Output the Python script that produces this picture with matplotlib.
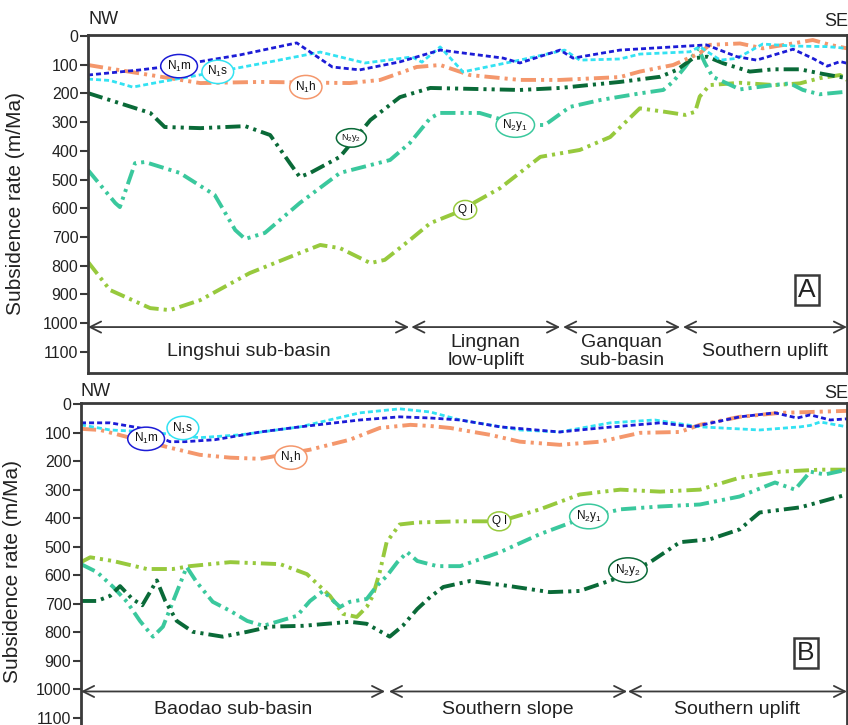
import matplotlib.pyplot as plt

plt.rcParams['font.family'] = ['Liberation Sans', 'DejaVu Sans']
plt.rcParams['mathtext.default'] = 'regular'

# ---- panel A : distance along profile (0-100), subsidence rate (m/Ma)
a_n1m_x = [0, 6.9, 12.1, 20.0, 27.5, 32.2, 35.8, 41.1, 46.4, 54.7, 56.9, 62.2, 63.9, 70.1, 81.5, 85.5, 88.1, 92.9, 95.5, 97.4, 99.1, 100]
a_n1m_y = [136, 118, 101, 66, 24, 108, 118, 90, 49, 77, 94, 49, 77, 49, 31, 72, 84, 46, 78, 105, 89, 95]

a_n1s_x = [0, 2.9, 5.9, 9.5, 17.0, 24.0, 30.6, 36.5, 42.7, 44.0, 46.4, 49.4, 56.9, 62.8, 64.8, 70.1, 72.7, 79.3, 80.6, 83.3, 85.5, 88.9, 92.9, 97.4, 100]
a_n1s_y = [150, 155, 178, 160, 125, 90, 56, 94, 73, 91, 38, 125, 84, 49, 84, 80, 63, 55, 37, 84, 78, 28, 35, 37, 43]

a_n1h_x = [0, 1.6, 8.2, 14.8, 22.7, 34.5, 38.5, 43.3, 46.4, 50.3, 56.9, 62.2, 70.1, 72.7, 77.1, 80.6, 81.9, 85.9, 88.9, 92.4, 95.5, 97.8, 100]
a_n1h_y = [101, 108, 136, 164, 160, 164, 153, 108, 101, 136, 153, 153, 143, 124, 101, 60, 31, 26, 43, 28, 14, 31, 43]

a_n2y2_x = [0, 8.2, 10.1, 14.8, 20.7, 24.0, 26.6, 27.9, 29.2, 33.2, 37.2, 41.1, 45.1, 56.9, 62.2, 70.1, 75.4, 77.6, 79.7, 81.6, 83.7, 87.2, 90.3, 93.8, 96.8, 100]
a_n2y2_y = [199, 268, 317, 321, 314, 345, 443, 491, 478, 421, 293, 213, 181, 188, 181, 160, 142, 118, 78, 72, 95, 124, 116, 116, 132, 147]

a_n2y1_x = [0, 3.6, 4.2, 6.2, 7.5, 12.1, 16.7, 19.4, 20.7, 23.3, 27.9, 33.2, 39.8, 42.4, 45.1, 46.4, 51.6, 56.9, 60.2, 63.5, 67.5, 72.7, 75.8, 77.1, 78.7, 80.4, 81.3, 82.3, 85.9, 90.3, 92.5, 94.2, 96.4, 100]
a_n2y1_y = [467, 582, 596, 443, 439, 477, 554, 676, 707, 686, 582, 477, 432, 373, 286, 268, 268, 310, 310, 247, 223, 200, 188, 159, 107, 43, 95, 142, 186, 171, 165, 188, 203, 194]

a_ql_x = [0, 2.9, 8.2, 10.8, 14.8, 21.3, 27.9, 30.6, 33.2, 37.2, 39.1, 42.4, 45.1, 48.4, 54.3, 59.6, 64.8, 68.8, 72.7, 76.0, 78.7, 80.0, 80.6, 81.9, 85.9, 90.5, 93.8, 96.4, 99.1, 100]
a_ql_y = [787, 885, 948, 955, 920, 826, 756, 728, 739, 791, 780, 711, 652, 617, 530, 421, 397, 352, 252, 264, 275, 264, 211, 171, 163, 171, 165, 147, 136, 153]

# ---- panel B
b_n1m_x = [0, 3.8, 7.7, 11.6, 13.6, 17.5, 23.4, 28.6, 36.4, 41.6, 45.6, 49.5, 54.7, 62.5, 67.8, 75.6, 79.9, 86.0, 90.6, 93.5, 95.2, 97.8, 100]
b_n1m_y = [66, 66, 84, 132, 132, 125, 98, 80, 56, 45, 49, 56, 80, 98, 84, 66, 80, 45, 31, 49, 38, 56, 52]

b_n1s_x = [0, 3.8, 9.0, 15.5, 20.8, 28.6, 36.4, 41.6, 45.6, 49.5, 57.3, 62.5, 69.1, 74.9, 80.8, 88.6, 93.9, 95.2, 96.5, 100]
b_n1s_y = [73, 91, 98, 118, 108, 80, 31, 17, 28, 56, 91, 98, 66, 56, 80, 91, 80, 75, 63, 80]

b_n1h_x = [0, 2.5, 6.4, 11.6, 15.5, 19.5, 23.4, 29.9, 35.1, 39.0, 43.0, 45.6, 48.2, 53.4, 57.3, 62.5, 67.8, 73.0, 78.2, 80.8, 86.0, 91.3, 95.2, 100]
b_n1h_y = [87, 91, 118, 153, 178, 188, 192, 160, 125, 84, 73, 77, 84, 108, 132, 143, 132, 101, 98, 73, 45, 31, 28, 24]

b_ql_x = [0, 1.2, 4.2, 8.6, 12.0, 14.2, 19.5, 26.0, 29.5, 32.5, 34.2, 36.0, 37.3, 38.1, 39.0, 39.9, 41.6, 43.9, 49.5, 54.7, 59.9, 65.1, 70.4, 75.6, 80.8, 86.0, 91.3, 96.5, 100]
b_ql_y = [554, 537, 550, 578, 578, 568, 554, 561, 596, 672, 735, 746, 711, 672, 589, 484, 422, 415, 411, 411, 369, 317, 300, 307, 300, 258, 237, 230, 230]

b_n2y1_x = [0, 2.1, 4.2, 6.0, 7.7, 9.4, 10.7, 12.5, 13.8, 15.1, 17.2, 19.5, 21.7, 23.8, 28.2, 29.9, 31.6, 33.8, 35.1, 37.3, 38.6, 39.9, 41.3, 42.6, 43.9, 46.5, 49.5, 54.7, 59.9, 65.1, 70.4, 75.6, 80.8, 86.0, 90.6, 93.2, 95.2, 97.1, 100]
b_n2y1_y = [561, 589, 641, 693, 760, 815, 780, 659, 571, 624, 693, 725, 760, 777, 742, 690, 655, 711, 693, 683, 638, 603, 554, 519, 550, 568, 568, 519, 456, 404, 369, 359, 352, 324, 275, 300, 237, 247, 230]

b_n2y2_x = [0, 2.1, 3.8, 5.1, 6.7, 8.0, 9.9, 11.0, 12.5, 14.6, 18.5, 21.7, 24.7, 29.0, 35.1, 37.3, 40.3, 42.0, 43.9, 45.6, 47.3, 50.8, 56.0, 61.2, 65.1, 69.7, 74.3, 78.2, 82.1, 86.0, 88.6, 93.9, 100]
b_n2y2_y = [690, 690, 672, 638, 683, 705, 618, 690, 760, 798, 815, 798, 780, 777, 763, 770, 815, 777, 718, 676, 641, 620, 638, 659, 655, 613, 554, 484, 474, 439, 380, 362, 317]

# region names and their extents along the profile
a_regions = ["Lingshui sub-basin", "Lingnan\nlow-uplift", "Ganquan\nsub-basin", "Southern uplift"]
a_bounds = [(0, 42.3), (42.6, 62.2), (62.6, 78.0), (78.4, 100)]
b_regions = ["Baodao sub-basin", "Southern slope", "Southern uplift"]
b_bounds = [(0, 39.7), (40.2, 71.3), (71.4, 100)]

c_n1m = '#1c1cd6'
c_n1s = '#33e2f2'
c_n1h = '#f4976c'
c_n2y2 = '#0a6a38'
c_n2y1 = '#3ac89d'
c_ql = '#97c93d'
frame = '#3a3a3a'

short = (1.8, 1.1)
dashdot2 = (3.9, 1.3, 0.8, 1.3, 0.8, 1.3)

fig = plt.figure(figsize=(8.48, 7.25), dpi=100)
ax_a = fig.add_axes([0.10377, 0.48552, 0.8950, 0.46621])
ax_b = fig.add_axes([0.09552, -0.02069, 0.9033, 0.46483])


def style_axes(ax, ybottom):
    ax.set_xlim(0, 100)
    ax.set_ylim(ybottom, -3.5)
    ax.set_xticks([])
    ax.set_yticks(range(0, 1101, 100))
    ax.tick_params(axis='y', direction='out', length=6, width=1.5,
                   colors=frame, labelsize=11.5, pad=1, labelcolor='#222')
    for s in ax.spines.values():
        s.set_linewidth(2)
        s.set_color(frame)
    ax.set_ylabel("Subsidence rate (m/Ma)", fontsize=15, color='#222')


def draw_lines(ax, data):
    for xs, ys, col, lw, dash in data:
        ax.plot(xs, ys, color=col, lw=lw, dashes=dash, dash_capstyle='butt')


def tag(ax, x, y, txt, col, fs=8.5):
    ax.text(x, y, txt, ha='center', va='center', fontsize=fs, color='#111',
            bbox=dict(boxstyle='ellipse,pad=0.06', fc='white', ec=col, lw=1.1),
            zorder=5)


def regions(ax, names, bounds, yarrow, ytext):
    for name, (x0, x1) in zip(names, bounds):
        ax.annotate('', xy=(x1, yarrow), xytext=(x0, yarrow),
                    arrowprops=dict(arrowstyle='<->', color=frame, lw=1.3,
                                    mutation_scale=20, shrinkA=0, shrinkB=0),
                    annotation_clip=False)
        ax.text((x0 + x1) / 2, ytext, name, ha='center', va='center',
                fontsize=14, color='#222', linespacing=1.05)


# panel A
style_axes(ax_a, 1174)
ax_a.yaxis.set_label_coords(-0.083, 0.5)
draw_lines(ax_a, [
    (a_ql_x, a_ql_y, c_ql, 2.8, dashdot2),
    (a_n2y1_x, a_n2y1_y, c_n2y1, 2.8, dashdot2),
    (a_n2y2_x, a_n2y2_y, c_n2y2, 2.8, dashdot2),
    (a_n1h_x, a_n1h_y, c_n1h, 2.8, dashdot2),
    (a_n1s_x, a_n1s_y, c_n1s, 2.0, short),
    (a_n1m_x, a_n1m_y, c_n1m, 2.0, short),
])
tag(ax_a, 12.0, 105, r'N$_1$m', c_n1m)
tag(ax_a, 17.1, 125, r'N$_1$s', c_n1s)
tag(ax_a, 28.7, 178, r'N$_1$h', c_n1h)
tag(ax_a, 34.7, 355, r'N$_2$y$_2$', c_n2y2, fs=6.5)
tag(ax_a, 56.3, 310, r'N$_2$y$_1$', c_n2y1)
tag(ax_a, 49.7, 606, 'Q l', c_ql)
regions(ax_a, a_regions, a_bounds, 1014, 1098)
ax_a.text(0.947, 0.2456, 'A', transform=ax_a.transAxes, ha='center', va='center',
          fontsize=19, color='#222',
          bbox=dict(boxstyle='square,pad=0.12', fc='white', ec=frame, lw=1.8))

# panel B
style_axes(ax_b, 1177)
ax_b.yaxis.set_label_coords(-0.077, 0.5)
draw_lines(ax_b, [
    (b_ql_x, b_ql_y, c_ql, 2.8, dashdot2),
    (b_n2y1_x, b_n2y1_y, c_n2y1, 2.8, dashdot2),
    (b_n2y2_x, b_n2y2_y, c_n2y2, 2.8, dashdot2),
    (b_n1h_x, b_n1h_y, c_n1h, 2.8, dashdot2),
    (b_n1s_x, b_n1s_y, c_n1s, 2.0, short),
    (b_n1m_x, b_n1m_y, c_n1m, 2.0, short),
])
tag(ax_b, 8.5, 122, r'N$_1$m', c_n1m)
tag(ax_b, 13.3, 84, r'N$_1$s', c_n1s)
tag(ax_b, 27.4, 188, r'N$_1$h', c_n1h)
tag(ax_b, 54.6, 411, 'Q l', c_ql)
tag(ax_b, 66.3, 394, r'N$_2$y$_1$', c_n2y1)
tag(ax_b, 71.4, 582, r'N$_2$y$_2$', c_n2y2)
regions(ax_b, b_regions, b_bounds, 1007, 1070)
ax_b.text(0.9465, 0.258, 'B', transform=ax_b.transAxes, ha='center', va='center',
          fontsize=19, color='#222',
          bbox=dict(boxstyle='square,pad=0.12', fc='white', ec=frame, lw=1.8))

fig.text(88 / 848, 1 - 20 / 725, 'NW', ha='left', va='center', fontsize=13, color='#222')
fig.text(1.0, 1 - 22 / 725, 'SE', ha='right', va='center', fontsize=13, color='#222')
fig.text(80 / 848, 1 - 392 / 725, 'NW', ha='left', va='center', fontsize=13, color='#222')
fig.text(1.0, 1 - 393 / 725, 'SE', ha='right', va='center', fontsize=13, color='#222')

fig.savefig('out.png', dpi=100)
